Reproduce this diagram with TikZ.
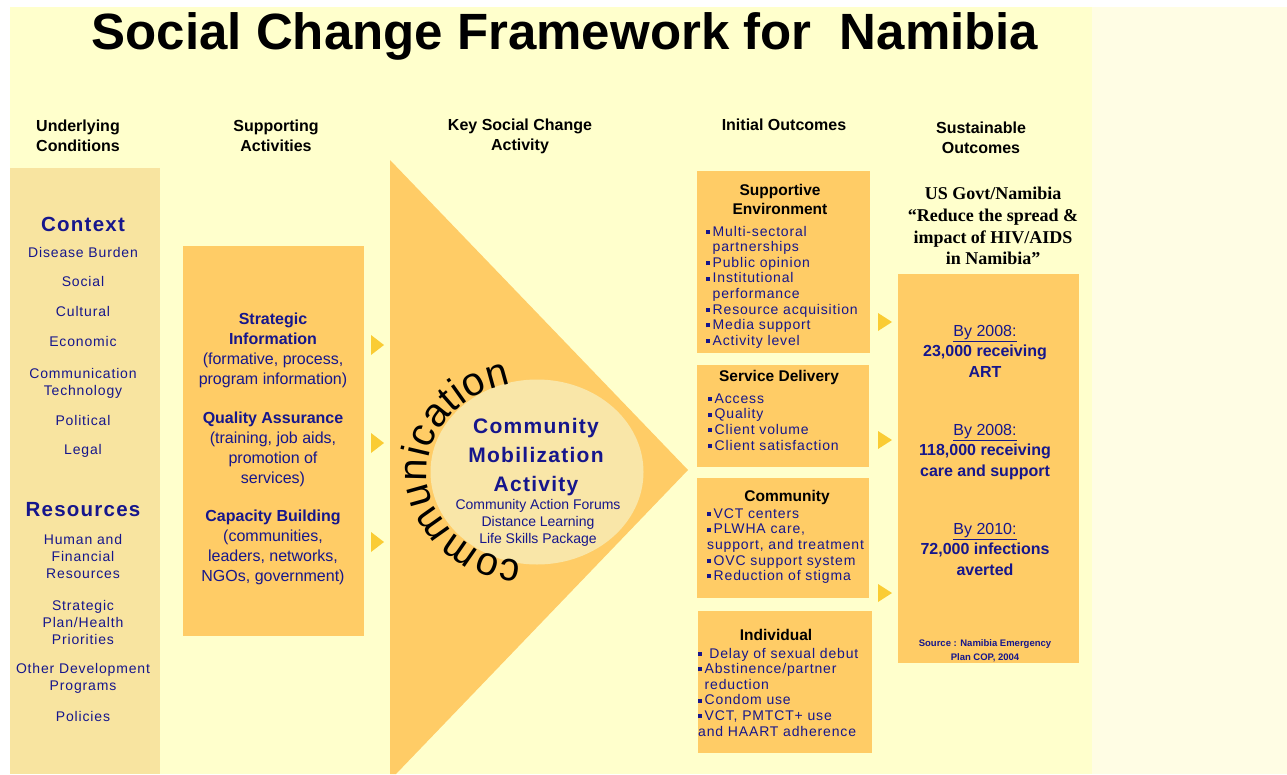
\documentclass[tikz,border=0pt]{standalone}
\usepackage{fontspec}
\setmainfont{Liberation Sans}
\newfontfamily\timesfont{Liberation Serif}
\newfontfamily\spaced[LetterSpace=6]{Liberation Sans}
\usetikzlibrary{shapes.geometric,decorations.text}
\definecolor{paleyellow}{RGB}{255,255,204}
\definecolor{cream}{RGB}{255,253,228}
\definecolor{wheat}{RGB}{248,228,160}
\definecolor{orangebox}{RGB}{255,204,102}
\definecolor{ellfill}{RGB}{249,230,168}
\definecolor{gold}{RGB}{250,204,52}
\definecolor{navy}{RGB}{22,22,140}
\newcommand{\bul}{\rule[2.2pt]{4pt}{4pt}\hspace{2.5pt}}
\newcommand{\ind}{\hphantom{\bul}}
\newcommand{\arcfont}{\fontsize{40}{40}\selectfont}

\begin{document}
\begin{tikzpicture}[x=1pt,y=-1pt]
  \tikzstyle{obox}=[rectangle,inner sep=0,anchor=north west,fill=orangebox]
  \tikzstyle{colhead}=[font=\bfseries\fontsize{16}{20}\selectfont,align=center,inner sep=0]
  \tikzstyle{condtext}=[text=navy,font=\spaced\fontsize{14}{17}\selectfont,align=center,inner sep=0]
  \tikzstyle{condhead}=[text=navy,font=\spaced\bfseries\fontsize{20.5}{24}\selectfont,inner sep=0]
  \tikzstyle{acttext}=[text=navy,font=\fontsize{16}{20}\selectfont,align=center,inner sep=0]
  \tikzstyle{outhead}=[font=\bfseries\fontsize{15.5}{19}\selectfont,align=center,inner sep=0]
  \tikzstyle{bullets}=[text=navy,font=\spaced\fontsize{14}{15.6}\selectfont,align=left,anchor=west,inner sep=0]
  \tikzstyle{goaltext}=[text=navy,font=\fontsize{16}{20.5}\selectfont,align=center,inner sep=0]

  \useasboundingbox (0,0) rectangle (1287,774);
  \fill[white] (0,0) rectangle (1287,774);
  \fill[cream] (1092,7) rectangle (1287,774);
  \fill[paleyellow] (10,7) rectangle (1092,774);

  % title and column heads
  \node[font=\bfseries\fontsize{51}{56}\selectfont,inner sep=0] (title) at (565,36) {Social Change Framework for~~Namibia};
  \node[colhead] (hcond) at (78,136) {Underlying\\Conditions};
  \node[colhead] (hsupp) at (276,136) {Supporting\\Activities};
  \node[colhead] (hkey) at (520,136) {Key Social Change\\Activity};
  \node[colhead] (hinit) at (784,125) {Initial Outcomes};
  \node[colhead] (hsust) at (981,138) {Sustainable\\Outcomes};

  % underlying conditions
  \node[rectangle,inner sep=0,anchor=north west,fill=wheat,minimum width=150pt,minimum height=606pt] (cond) at (10,168) {};
  \node[condhead] (ctx) at (83,224) {Context};
  \node[condtext] (dis) at (83,252) {Disease Burden};
  \node[condtext] (soc) at (83,281) {Social};
  \node[condtext] (cul) at (83,311) {Cultural};
  \node[condtext] (eco) at (83,341) {Economic};
  \node[condtext] (tech) at (83,383) {Communication\\Technology};
  \node[condtext] (pol) at (83,420) {Political};
  \node[condtext] (leg) at (83,451) {Legal};
  \node[condhead] (res) at (83,510) {Resources};
  \node[condtext] (hfr) at (83,556) {Human and\\Financial\\Resources};
  \node[condtext] (spl) at (83,622) {Strategic\\Plan/Health\\Priorities};
  \node[condtext] (odp) at (83,678) {Other Development\\Programs};
  \node[condtext] (pcy) at (83,716) {Policies};

  % supporting activities
  \node[obox,minimum width=181pt,minimum height=390pt] (supp) at (183,246) {};
  \node[acttext] (si) at (273,350) {\textbf{Strategic}\\\textbf{Information}\\(formative, process,\\program information)};
  \node[acttext] (qa) at (273,449) {\textbf{Quality Assurance}\\(training, job aids,\\promotion of\\services)};
  \node[acttext] (cb) at (273,547) {\textbf{Capacity Building}\\(communities,\\leaders, networks,\\NGOs, government)};
  \foreach \y in {345,443,542}
    \fill[gold] (371,\y-10) -- (384,\y) -- (371,\y+10) -- cycle;

  % key social change activity
  \fill[orangebox] (390,160) -- (688,470) -- (396,774) -- (390,774) -- cycle;
  \node[ellipse,fill=ellfill,inner sep=0,minimum width=213pt,minimum height=185pt] (cma) at (537,472) {};
  \path[decorate,decoration={text along path,text color=black,
      text={|\arcfont|communication},text align={fit to path}}]
    (533,472) ++(264:106pt and 90pt) arc[start angle=264,end angle=102,x radius=106pt,y radius=90pt];
  \node[text=navy,font=\spaced\bfseries\fontsize{21}{29}\selectfont,align=center,inner sep=0] (cmaname) at (536,457) {Community\\Mobilization\\Activity};
  \node[text=navy,font=\fontsize{14}{17}\selectfont,align=center,inner sep=0] (cmaitems) at (538,523) {Community Action Forums\\Distance Learning\\Life Skills Package};

  % initial outcomes
  \node[obox,minimum width=173pt,minimum height=182pt] (env) at (697,171) {};
  \node[outhead] (envh) at (780,199) {Supportive\\Environment};
  \node[bullets] (envl) at (706,287) {\bul Multi-sectoral\\\ind partnerships\\\bul Public opinion\\\bul Institutional\\\ind performance\\\bul Resource acquisition\\\bul Media support\\\bul Activity level};
  \node[obox,minimum width=172pt,minimum height=102pt] (serv) at (697,365) {};
  \node[outhead] (servh) at (779,377) {Service Delivery};
  \node[bullets] (servl) at (708,422) {\bul Access\\\bul Quality\\\bul Client volume\\\bul Client satisfaction};
  \node[obox,minimum width=172pt,minimum height=120pt] (comm) at (697,478) {};
  \node[outhead] (commh) at (787,497) {Community};
  \node[bullets] (comml) at (707,546) {\bul VCT centers\\\bul PLWHA care,\\support, and treatment\\\bul OVC support system\\\bul Reduction of stigma};
  \node[obox,minimum width=174pt,minimum height=142pt] (indiv) at (698,611) {};
  \node[outhead] (indivh) at (776,635) {Individual};
  \node[bullets] (indivl) at (698,692) {\bul\ Delay of sexual debut\\\bul Abstinence/partner\\\ind reduction\\\bul Condom use\\\bul VCT, PMTCT+ use\\and HAART adherence};
  \foreach \y in {322,440,593}
    \fill[gold] (878,\y-9) -- (892,\y) -- (878,\y+9) -- cycle;

  % sustainable outcomes
  \node[font=\timesfont\bfseries\fontsize{18}{21.7}\selectfont,align=center,inner sep=0] (goal) at (993,226) {US Govt/Namibia\\“Reduce the spread \&\\impact of HIV/AIDS\\in Namibia”};
  \node[obox,minimum width=181pt,minimum height=389pt] (sust) at (898,274) {};
  \node[goaltext] (art) at (985,351) {\underline{By 2008:}\\\textbf{23,000 receiving}\\\textbf{ART}};
  \node[goaltext] (care) at (985,452) {\underline{By 2008:}\\\textbf{118,000 receiving}\\\textbf{care and support}};
  \node[goaltext] (avert) at (985,549) {\underline{By 2010:}\\\textbf{72,000 infections}\\\textbf{averted}};
  \node[text=navy,font=\bfseries\fontsize{9.5}{14}\selectfont,align=center,inner sep=0] (src) at (985,651) {Source : Namibia Emergency\\Plan COP, 2004};
\end{tikzpicture}
\end{document}
